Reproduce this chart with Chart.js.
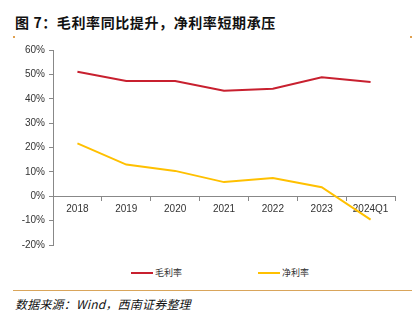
<!DOCTYPE html>
<html><head><meta charset="utf-8">
<script src="https://cdn.jsdelivr.net/npm/chart.js@4.4.0/dist/chart.umd.min.js"></script>
<style>
html,body{margin:0;padding:0;background:#fff;width:418px;height:323px;overflow:hidden;position:relative;font-family:"Liberation Sans",Arial,sans-serif;}
#title{position:absolute;left:15px;top:13px;font:bold 14px "Noto Sans CJK SC",sans-serif;letter-spacing:0.6px;color:#111;white-space:nowrap;line-height:18px;}
.mk{position:absolute;top:36px;width:2px;height:2px;background:#E0A050;}
#wrap{position:absolute;left:0;top:40px;width:418px;height:215px;}
.leg{position:absolute;top:266px;height:14px;font:9px "Noto Sans CJK SC",sans-serif;color:#333;line-height:14px;white-space:nowrap;}
.leg i{display:inline-block;width:22px;height:2px;vertical-align:middle;margin-right:2px;position:relative;top:-1px;}
#rule{position:absolute;left:13px;top:290px;width:399px;height:1px;background:#D9A55B;}
#src{position:absolute;left:15px;top:296px;font:italic 12px "Noto Sans CJK SC",sans-serif;letter-spacing:0.2px;color:#111;white-space:nowrap;line-height:16px;}
</style></head><body>
<div id="title">图 7：毛利率同比提升，净利率短期承压</div>
<div class="mk" style="left:13px"></div><div class="mk" style="left:410px"></div>
<div id="wrap"><canvas id="c" width="418" height="215"></canvas></div>
<div class="leg" style="left:131px"><i style="background:#C8202F"></i>毛利率</div>
<div class="leg" style="left:258px"><i style="background:#FFC000"></i>净利率</div>
<div id="rule"></div>
<div id="src">数据来源：Wind，西南证券整理</div>
<script>
const categories = ["2018","2019","2020","2021","2022","2023","2024Q1"];
const grossMargin = [51.1, 47.3, 47.3, 43.3, 44.1, 48.8, 46.9];
const netMargin = [21.7, 13.0, 10.4, 5.8, 7.5, 3.7, -9.6];
const seriesNames = ["毛利率","净利率"];
const yTicks = {min:-20, max:60, step:10};

new Chart(document.getElementById('c'), {
  type:'line',
  data:{labels:categories, datasets:[
    {label:seriesNames[0], data:grossMargin, borderColor:'#C8202F', borderWidth:2, pointRadius:0, tension:0, fill:false},
    {label:seriesNames[1], data:netMargin, borderColor:'#FFC000', borderWidth:2, pointRadius:0, tension:0, fill:false}
  ]},
  options:{
    responsive:false, animation:false, devicePixelRatio:1,
    layout:{padding:{left:0,right:23,top:10,bottom:10}},
    plugins:{legend:{display:false}, tooltip:{enabled:false}},
    scales:{
      x:{position:{y:0}, offset:true,
        grid:{display:true, offset:true, drawOnChartArea:false, drawTicks:true, tickLength:4, color:'#888'},
        border:{display:true, color:'#888', width:1},
        ticks:{color:'#333', font:{family:'"Liberation Sans", Arial', size:10}, padding:3, maxRotation:0, autoSkip:false}
      },
      y:{min:yTicks.min, max:yTicks.max,
        afterFit:(s)=>{s.width=53;},
        grid:{display:true, drawOnChartArea:false, drawTicks:true, tickLength:4, color:'#888'},
        border:{display:true, color:'#888', width:1},
        ticks:{stepSize:yTicks.step, color:'#333', font:{family:'"Liberation Sans", Arial', size:10}, padding:4, callback:v=>v+'%'}
      }
    }
  }
});
</script>
</body></html>
